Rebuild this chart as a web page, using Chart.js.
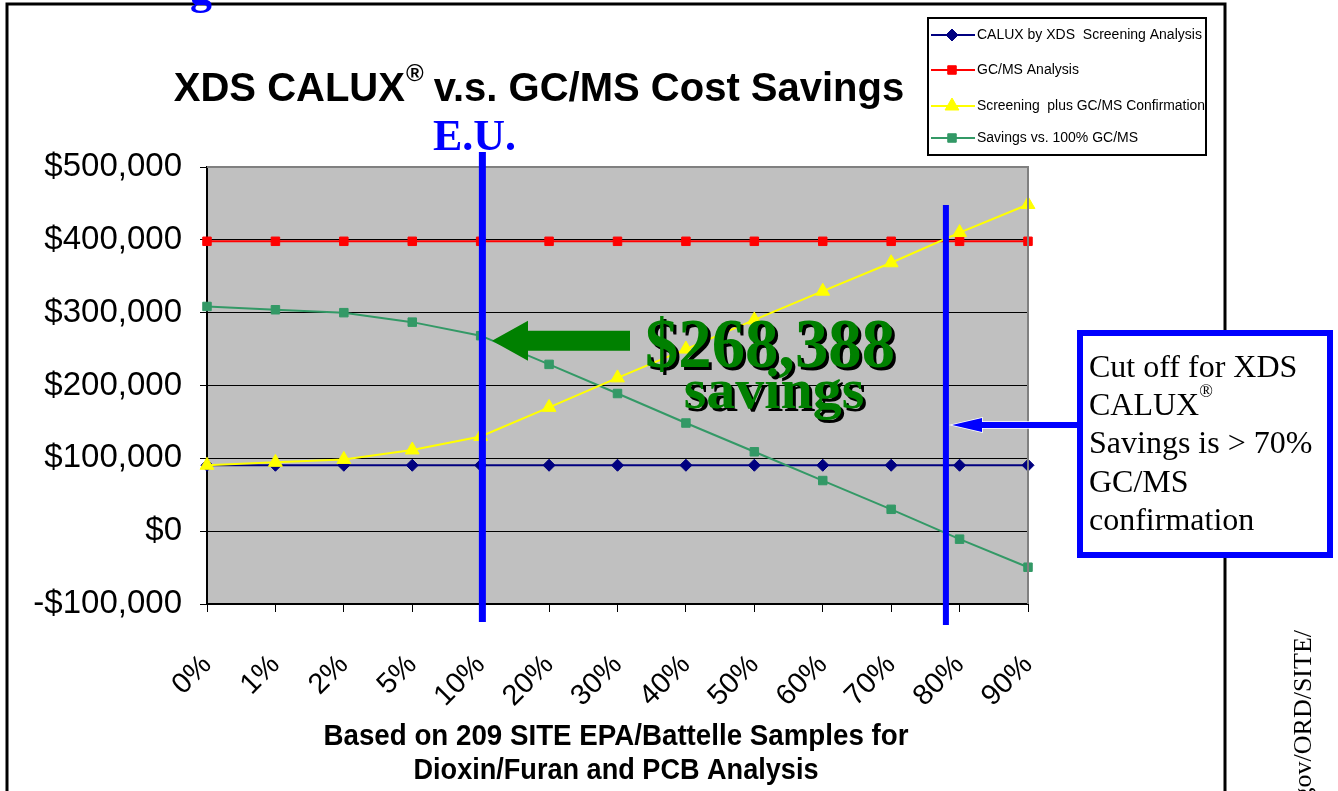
<!DOCTYPE html>
<html>
<head>
<meta charset="utf-8">
<script src="https://cdn.jsdelivr.net/npm/chart.js@4"></script>
<style>
  html, body { margin: 0; padding: 0; background: #fff; }
  canvas { display: block; }
</style>
</head>
<body>
<canvas id="savingsChart" width="1338" height="791"></canvas>
<script>
// categories (percent of samples sent on to GC/MS)
const categories = ['0%', '1%', '2%', '5%', '10%', '20%', '30%', '40%', '50%', '60%', '70%', '80%', '90%'];

// series values
const caluxCost = [90500, 90500, 90500, 90500, 90500, 90500, 90500, 90500, 90500, 90500, 90500, 90500, 90500];
const gcmsCost = [398000, 398000, 398000, 398000, 398000, 398000, 398000, 398000, 398000, 398000, 398000, 398000, 398000];
const screeningPlusGcms = [90500, 94500, 98500, 111500, 130000, 170000, 210500, 250000, 290000, 329500, 368500, 410000, 448500];
const savingsVsGcms = [308500, 304000, 300000, 287000, 268388, 229000, 189000, 148500, 109000, 69500, 30000, -11000, -49500];

// y axis ticks
const yTicks = [-100000, 0, 100000, 200000, 300000, 400000, 500000];

const seriesNames = ['CALUX by XDS  Screening Analysis', 'GC/MS Analysis', 'Screening  plus GC/MS Confirmation', 'Savings vs. 100% GC/MS'];

const SANS = '"Liberation Sans", Arial, sans-serif';
const SERIF = '"Liberation Serif", "Times New Roman", serif';

function money(v) {
    const s = '$' + Math.abs(v).toLocaleString('en-US');
    return v < 0 ? '-' + s : s;
}

// everything drawn on top of the plot: blue cut lines, arrows, texts, legend, frame
const overlay = {
    id: 'overlay',
    beforeDraw(chart) {
        const { ctx, chartArea: a } = chart;
        ctx.save();
        ctx.fillStyle = '#c0c0c0';
        ctx.fillRect(a.left, a.top, a.right - a.left, a.bottom - a.top);
        ctx.restore();
    },
    afterDatasetsDraw(chart) {
        const { ctx, chartArea: a } = chart;
        const x = chart.scales.x, y = chart.scales.y;
        ctx.save();
        // plot border (top and right, gray)
        ctx.strokeStyle = '#808080';
        ctx.lineWidth = 2;
        ctx.beginPath();
        ctx.moveTo(a.left, a.top);
        ctx.lineTo(a.right, a.top);
        ctx.lineTo(a.right, a.bottom);
        ctx.stroke();

        // outer frame
        ctx.strokeStyle = '#000';
        ctx.lineWidth = 3;
        ctx.beginPath();
        ctx.moveTo(7, 800);
        ctx.lineTo(7, 4);
        ctx.lineTo(1225, 4);
        ctx.lineTo(1225, 800);
        ctx.stroke();

        // E.U. cut line and 80% cut line
        const xEU = (x.getPixelForValue(4) + x.getPixelForValue(5)) / 2 - 33;
        const xCut = x.getPixelForValue(10) + (x.getPixelForValue(11) - x.getPixelForValue(10)) * 0.8;
        ctx.fillStyle = '#0000ff';
        ctx.fillRect(xEU - 3, 152, 7, 470);
        ctx.fillRect(xCut - 3, 205, 6, 420);

        // big green arrow pointing at the 10% savings point
        const ay = y.getPixelForValue(savingsVsGcms[4]) + 5;
        ctx.fillStyle = '#008000';
        ctx.beginPath();
        ctx.moveTo(492, ay);
        ctx.lineTo(528, ay - 20);
        ctx.lineTo(528, ay - 10);
        ctx.lineTo(630, ay - 10);
        ctx.lineTo(630, ay + 10);
        ctx.lineTo(528, ay + 10);
        ctx.lineTo(528, ay + 20);
        ctx.closePath();
        ctx.fill();

        // savings text with black shadow
        ctx.textAlign = 'center';
        ctx.textBaseline = 'alphabetic';
        ctx.font = 'bold 70px ' + SERIF;
        ctx.fillStyle = '#000';
        ctx.fillText('$268,388', 773, 370, 250);
        ctx.fillStyle = '#008000';
        ctx.fillText('$268,388', 770, 367, 250);
        ctx.font = 'bold 58px ' + SERIF;
        ctx.fillStyle = '#000';
        ctx.fillText('savings', 777, 411, 183);
        ctx.fillStyle = '#008000';
        ctx.fillText('savings', 774, 408, 183);

        // small blue arrow from the note box to the cut line
        const ny = 425;
        ctx.beginPath();
        ctx.moveTo(952, ny);
        ctx.lineTo(982, ny - 7);
        ctx.lineTo(982, ny - 3);
        ctx.lineTo(1077, ny - 3);
        ctx.lineTo(1077, ny + 3);
        ctx.lineTo(982, ny + 3);
        ctx.lineTo(982, ny + 7);
        ctx.closePath();
        ctx.fillStyle = '#0000ff';
        ctx.strokeStyle = '#fff';
        ctx.lineWidth = 1.5;
        ctx.stroke();
        ctx.fill();

        // note box
        ctx.fillStyle = '#fff';
        ctx.fillRect(1077, 330, 256, 228);
        ctx.strokeStyle = '#0000ff';
        ctx.lineWidth = 6;
        ctx.strokeRect(1080, 333, 250, 222);
        ctx.fillStyle = '#000';
        ctx.textAlign = 'left';
        ctx.font = '32px ' + SERIF;
        ctx.fillText('Cut off for XDS', 1089, 377);
        ctx.fillText('CALUX', 1089, 415);
        const wc = ctx.measureText('CALUX').width;
        ctx.fillText('Savings is > 70%', 1089, 453);
        ctx.fillText('GC/MS', 1089, 492);
        ctx.fillText('confirmation', 1089, 530);
        ctx.font = '18px ' + SERIF;
        ctx.fillText('\u00AE', 1089 + wc, 397);
        ctx.restore();
    },
    afterDraw(chart) {
        const { ctx } = chart;
        ctx.save();
        // title
        ctx.fillStyle = '#000';
        ctx.textBaseline = 'alphabetic';
        ctx.textAlign = 'left';
        const t1 = 'XDS CALUX';
        const t2 = ' v.s. GC/MS Cost Savings';
        ctx.font = 'bold 40px ' + SANS;
        const w1 = ctx.measureText(t1).width;
        const w2 = ctx.measureText(t2).width;
        ctx.font = 'bold 24px ' + SANS;
        const wr = ctx.measureText('\u00AE').width;
        const tx = 539 - (w1 + wr + w2) / 2;
        ctx.font = 'bold 40px ' + SANS;
        ctx.fillText(t1, tx, 101);
        ctx.fillText(t2, tx + w1 + wr, 101);
        ctx.font = 'bold 24px ' + SANS;
        ctx.fillText('\u00AE', tx + w1 + 1, 81);

        // E.U.
        ctx.fillStyle = '#0000ff';
        ctx.font = 'bold 44px ' + SERIF;
        ctx.fillText('E.U.', 433, 150);
        // clipped glyph of the slide heading above
        ctx.fillText('g', 190, 4);

        // x axis title
        ctx.fillStyle = '#000';
        ctx.textAlign = 'center';
        ctx.font = 'bold 29px ' + SANS;
        ctx.fillText('Based on 209 SITE EPA/Battelle Samples for', 616, 745, 585);
        ctx.fillText('Dioxin/Furan and PCB Analysis', 616, 779, 405);

        // rotated url on the right
        ctx.translate(1311, 630);
        ctx.rotate(-Math.PI / 2);
        ctx.textAlign = 'right';
        ctx.font = '26px ' + SERIF;
        ctx.fillText('www.epa.gov/ORD/SITE/', 0, 0);
        ctx.setTransform(1, 0, 0, 1, 0, 0);

        // legend
        ctx.fillStyle = '#fff';
        ctx.fillRect(927, 17, 280, 139);
        ctx.strokeStyle = '#000';
        ctx.lineWidth = 2;
        ctx.strokeRect(928, 18, 278, 137);
        const rows = [35, 70, 106, 138];
        ctx.font = '14px ' + SANS;
        ctx.textAlign = 'left';
        ctx.textBaseline = 'middle';
        chart.data.datasets.forEach((ds, i) => {
            const ry = rows[i];
            ctx.strokeStyle = ds.borderColor;
            ctx.lineWidth = 2;
            ctx.beginPath();
            ctx.moveTo(931, ry);
            ctx.lineTo(975, ry);
            ctx.stroke();
            ctx.fillStyle = ds.pointBackgroundColor;
            ctx.strokeStyle = ds.pointBorderColor;
            ctx.lineWidth = 1;
            Chart.helpers.drawPoint(ctx, { pointStyle: ds.pointStyle, radius: ds.pointRadius, borderWidth: 1 }, 952, ry);
            ctx.fillStyle = '#000';
            ctx.fillText(seriesNames[i], 977, ry, 228);
        });
        ctx.restore();
    }
};

function series(i, data, color, style, radius, order) {
    return {
        label: seriesNames[i],
        data: data,
        borderColor: color,
        backgroundColor: color,
        borderWidth: 2,
        pointStyle: style,
        pointRadius: radius,
        pointBackgroundColor: color,
        pointBorderColor: color,
        pointBorderWidth: 1,
        tension: 0,
        order: order
    };
}

new Chart(document.getElementById('savingsChart').getContext('2d'), {
    type: 'line',
    data: {
        labels: categories,
        datasets: [
            series(0, caluxCost, '#000080', 'rectRot', 6, 2),
            series(1, gcmsCost, '#ff0000', 'rect', 6, 1),
            series(2, screeningPlusGcms, '#ffff00', 'triangle', 8, 0),
            series(3, savingsVsGcms, '#339966', 'rect', 6, 1)
        ]
    },
    options: {
        responsive: false,
        animation: false,
        layout: { padding: { left: 7, right: 310, top: 167, bottom: 0 } },
        plugins: {
            legend: { display: false },
            title: { display: false },
            tooltip: { enabled: false }
        },
        scales: {
            x: {
                offset: false,
                grid: { display: true, drawOnChartArea: false, drawTicks: true, tickLength: 8, tickColor: '#000', color: '#000' },
                border: { display: true, color: '#000', width: 2 },
                ticks: {
                    minRotation: 45, maxRotation: 45, padding: 36, autoSkip: false,
                    color: '#000',
                    font: { family: SANS, size: 29 }
                },
                afterFit: s => { s.height = 187; }
            },
            y: {
                min: -100000,
                max: 500000,
                afterBuildTicks: s => { s.ticks = yTicks.map(v => ({ value: v })); },
                grid: { color: '#000', lineWidth: 1, drawTicks: true, tickLength: 7, tickColor: '#000' },
                border: { display: true, color: '#000', width: 2 },
                ticks: {
                    padding: 18,
                    color: '#000',
                    font: { family: SANS, size: 33 },
                    callback: v => money(v)
                },
                afterFit: s => { s.width = 200; }
            }
        }
    },
    plugins: [overlay]
});
</script>
</body>
</html>
